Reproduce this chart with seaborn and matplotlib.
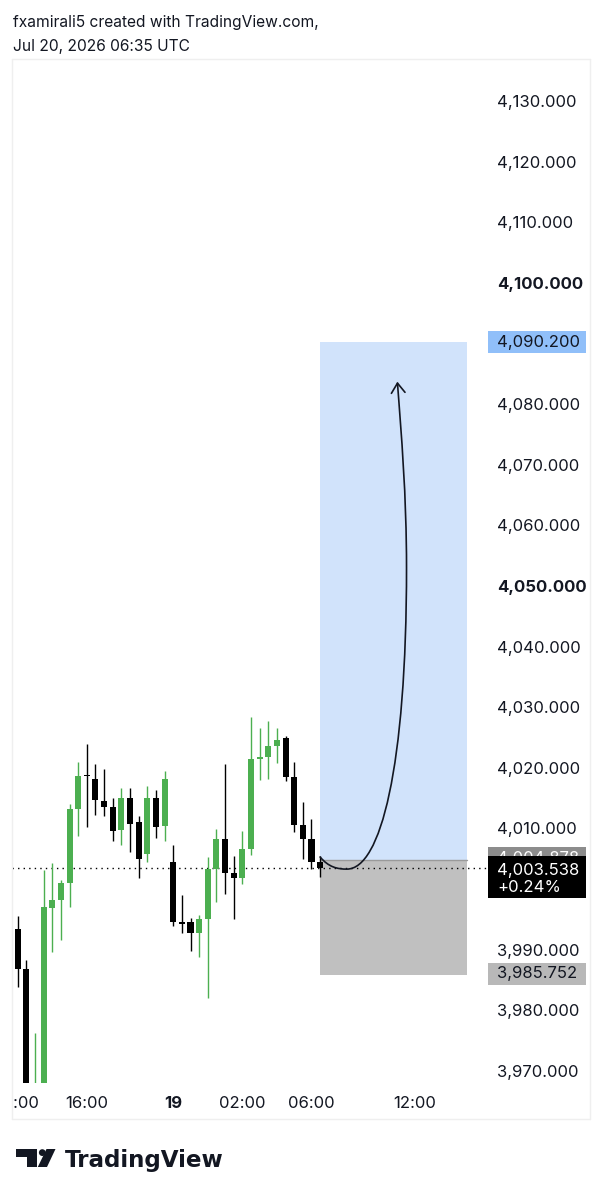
import numpy as np
import pandas as pd
import matplotlib
matplotlib.use("Agg")
import matplotlib.pyplot as plt
import seaborn as sns
from matplotlib.patches import Rectangle, FancyArrowPatch, Circle, Polygon
from matplotlib.path import Path
from matplotlib.transforms import Affine2D, Bbox, blended_transform_factory

# ---------------- data ----------------
opens  = [3993.5, 3986.9, 3958.0, 3966.0, 3996.9, 3998.2, 4001.0, 4013.2, 4018.9, 4018.1,
          4014.6, 4013.5, 4009.7, 4015.1, 4011.0, 4005.8, 4015.1, 4010.4, 4004.4, 3994.5,
          3994.5, 3992.7, 3995.1, 4003.3, 4008.2, 4002.7, 4001.8, 4006.6, 4021.4, 4021.8,
          4023.6, 4025.0, 4018.5, 4010.6, 4008.2, 4004.5]
highs  = [3995.5, 3988.3, 3976.2, 4003.2, 4004.3, 4001.5, 4014.0, 4021.0, 4023.9, 4020.6,
          4019.8, 4015.0, 4016.6, 4016.6, 4012.0, 4017.0, 4016.4, 4019.5, 4007.2, 3999.0,
          3995.2, 3995.8, 4005.3, 4009.9, 4020.6, 4005.5, 4009.6, 4028.4, 4026.5, 4027.7,
          4026.5, 4025.3, 4020.9, 4014.3, 4011.6, 4005.5]
lows   = [3983.9, 3955.0, 3950.0, 3962.0, 3989.6, 3991.6, 3997.1, 4008.7, 4010.3, 4012.2,
          4012.1, 4007.9, 4007.2, 4006.1, 4001.8, 4004.4, 4008.5, 4008.0, 3993.9, 3992.7,
          3989.8, 3988.8, 3982.1, 3997.8, 3999.2, 3995.0, 4000.8, 4005.6, 4018.0, 4018.1,
          4020.8, 4017.9, 4009.5, 4004.9, 4003.4, 4002.0]
closes = [3986.9, 3960.0, 3966.0, 3997.1, 3998.2, 4001.0, 4013.2, 4018.7, 4018.6, 4014.7,
          4013.5, 4009.6, 4015.1, 4010.7, 4004.9, 4015.1, 4010.3, 4018.1, 3994.5, 3994.3,
          3992.7, 3995.0, 4003.3, 4008.2, 4002.6, 4001.8, 4006.6, 4021.4, 4021.8, 4023.6,
          4024.6, 4018.5, 4010.6, 4008.2, 4004.5, 4003.538]

time_tick_pos = [0, 8, 18, 26, 34, 46]
time_tick_labels = ["12:00", "16:00", "19", "02:00", "06:00", "12:00"]
price_ticks = [4130, 4120, 4110, 4100, 4080, 4070, 4060, 4050, 4040, 4030, 4020, 4010, 3990, 3980, 3970]
bold_prices = [4100, 4050]

last_price = 4003.538
last_change = "+0.24%"
entry_price = 4004.878
target_price = 4090.200
stop_price = 3985.752
position_start, position_end = 35, 52

arrow_pts = [(35.0, 4005.3), (36.0, 4003.6), (37.0, 4003.3), (38.1, 4003.3),
             (42.0, 4003.3), (45.0, 4020.0), (45.0, 4053.0),
             (45.0, 4065.0), (44.4, 4075.0), (43.94, 4083.7)]

df = pd.DataFrame({"i": np.arange(len(opens)), "open": opens, "high": highs,
                   "low": lows, "close": closes})

# ---------------- style ----------------
sns.set_theme(style="white")
plt.rcParams["font.family"] = ["Inter", "DejaVu Sans"]
TXT = "#131722"
GREEN = "#4caf50"
FS = 12

W, H = 605, 1199
fig = plt.figure(figsize=(W / 100, H / 100), dpi=100)
fig.patch.set_facecolor("white")
pix = Affine2D().scale(1, -1).translate(0, H)  # pixel coords, origin top-left

ax_l, ax_r, ax_t, ax_b = 12, 488, 60, 1083
ax = fig.add_axes([ax_l / W, (H - ax_b) / H, (ax_r - ax_l) / W, (ax_b - ax_t) / H])
ax.set_facecolor("white")
for s in ax.spines.values():
    s.set_visible(False)

ymin, ymax = 3968.02, 4136.76
ax.set_ylim(ymin, ymax)
ax.set_xlim(-0.66, 54.43)
ppu = (ax_b - ax_t) / (ymax - ymin)  # pixels per price unit

# ---------------- position tool ----------------
ax.add_patch(Rectangle((position_start, entry_price), position_end - position_start,
                       target_price - entry_price, facecolor="#d1e3fb", edgecolor="none", zorder=1))
ax.add_patch(Rectangle((position_start, stop_price), position_end - position_start,
                       entry_price - stop_price, facecolor="#c0c0c0", edgecolor="none", zorder=1))
ax.plot([position_start, position_end], [entry_price, entry_price], color="#9a9a9a", lw=1.0, zorder=1.5)

# ---------------- candles ----------------
up = df["close"] >= df["open"]
cols = np.where(up, GREEN, "#000000")
ax.vlines(df["i"], df["low"], df["high"], colors=cols, lw=1.0, zorder=3)
body_bot = np.minimum(df["open"], df["close"])
body_h = np.maximum(np.abs(df["close"] - df["open"]), 0.25)
ax.bar(df["i"], body_h, bottom=body_bot, width=0.7, color=cols, edgecolor="none", zorder=4)

# last price dotted line
ax.axhline(last_price, color="#000000", lw=1.0, ls=(0, (1, 3)), zorder=2)

# ---------------- arrow curve ----------------
codes = [Path.MOVETO] + [Path.CURVE4] * 9
arr = FancyArrowPatch(path=Path(arrow_pts, codes), arrowstyle="->,head_length=0.5,head_width=0.35",
                      mutation_scale=14, color=TXT, lw=1.2, zorder=6)
ax.add_patch(arr)

# ---------------- axes ticks ----------------
ax.yaxis.tick_right()
ax.set_yticks(price_ticks)
ax.set_yticklabels([f"{p:,.3f}" for p in price_ticks])
ax.tick_params(axis="y", length=0, pad=6.5, labelsize=FS, labelcolor=TXT)
for lab, p in zip(ax.get_yticklabels(), price_ticks):
    if p in bold_prices:
        lab.set_fontweight("bold")

ax.set_xticks(time_tick_pos)
ax.set_xticklabels(time_tick_labels)
ax.tick_params(axis="x", length=0, pad=9.5, labelsize=FS, labelcolor=TXT)
xl = ax.get_xticklabels()
xl[2].set_fontweight("bold")
xl[0].set_clip_on(True)
xl[0].set_clip_box(Bbox.from_extents(ax_l, 0, W, H))

# ---------------- price labels ----------------
trans = blended_transform_factory(ax.transAxes, ax.transData)
bx0 = 1.0
bw = (586 - 488) / (ax_r - ax_l)
tx = (497 - ax_l) / (ax_r - ax_l)

def label_box(price, text, fc, tc, h_px=22, dy_px=0):
    hh = h_px / ppu
    ax.add_patch(Rectangle((bx0, price - hh / 2 - dy_px / ppu), bw, hh, transform=trans,
                           facecolor=fc, edgecolor="none", clip_on=False, zorder=8))
    ax.text(tx, price - dy_px / ppu, text, transform=trans, ha="left", va="center",
            fontsize=FS, color=tc, clip_on=False, zorder=9)

label_box(target_price, f"{target_price:,.3f}", "#90bff9", TXT)
label_box(stop_price, f"{stop_price:,.3f}", "#b8b8b8", TXT, dy_px=-1.5)
label_box(entry_price, f"{entry_price:,.3f}", "#8c8c8c", "#ffffff", dy_px=-1.5)
# current price black label (two lines)
top_p = ymax - (856 - ax_t) / ppu
bot_p = ymax - (898 - ax_t) / ppu
ax.add_patch(Rectangle((bx0, bot_p), bw, top_p - bot_p, transform=trans,
                       facecolor="#000000", edgecolor="none", clip_on=False, zorder=10))
ax.text(tx, ymax - (870 - ax_t) / ppu, f"{last_price:,.3f}", transform=trans, ha="left",
        va="center", fontsize=FS, color="white", clip_on=False, zorder=11)
ax.text(tx, ymax - (887.5 - ax_t) / ppu, last_change, transform=trans, ha="left",
        va="center", fontsize=FS, color="white", clip_on=False, zorder=11)

# ---------------- frame ----------------
fc = "#efefef"
fig.add_artist(plt.Line2D([12, 12], [59, 1119], transform=pix, color=fc, lw=1))
fig.add_artist(plt.Line2D([12, 590], [1119, 1119], transform=pix, color=fc, lw=1))
fig.add_artist(plt.Line2D([590, 590], [59, 1119], transform=pix, color=fc, lw=1))
fig.add_artist(plt.Line2D([12, 590], [59, 59], transform=pix, color=fc, lw=1))

# ---------------- header ----------------
fig.text(13, 23, "fxamirali5 created with TradingView.com,", transform=pix, ha="left",
         va="center", fontsize=11.2, color=TXT)
fig.text(13, 46, "Jul 20, 2026 06:35 UTC", transform=pix, ha="left", va="center",
         fontsize=11.2, color=TXT)

# ---------------- logo ----------------
logo_c = "#131722"
fig.add_artist(Polygon([(16, 1149), (36.7, 1149), (36.7, 1167), (26.7, 1167), (26.7, 1157), (16, 1157)],
                       closed=True, transform=pix, facecolor=logo_c, edgecolor="none"))
fig.add_artist(Circle((42.3, 1152.6), 3.4, transform=pix, facecolor=logo_c, edgecolor="none"))
fig.add_artist(Polygon([(46.5, 1149), (55.5, 1149), (47, 1167), (37.8, 1167)],
                       closed=True, transform=pix, facecolor=logo_c, edgecolor="none"))
fig.text(65, 1167, "TradingView", transform=pix, ha="left", va="baseline",
         fontsize=16.6, fontweight="bold", color=logo_c, family=["DejaVu Sans"])

fig.savefig("out.png", dpi=100, facecolor="white")
